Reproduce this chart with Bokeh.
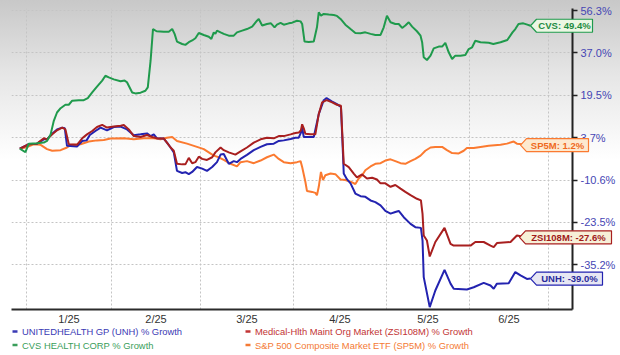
import numpy as np
from bokeh.plotting import figure
from bokeh.models import Range1d, FixedTicker
from bokeh.core.properties import value
from bokeh.embed import file_html
from bokeh.resources import INLINE

# ---------------- data ----------------
# right-axis tick values (% growth); the chart spaces them evenly
y_tick_values = [-35.2, -23.5, -10.6, 3.7, 19.5, 37.0, 56.3]
month_labels = ["1/25", "2/25", "3/25", "4/25", "5/25", "6/25"]
# month boundaries in trading-session units (x axis)
month_bounds = [1.7, 22.9, 45.2, 68.4, 91.7, 112.4, 132.2]

unh_x = [0, 2.25, 4.3, 6.0, 6.8, 8.1, 9.3, 10.6, 11.25, 11.8, 14.3, 15.6, 16.7, 17.5, 18.9, 20.2, 21.8, 23.5, 25.2, 26.8,
         28.5, 30.2, 31.8, 32.7, 33.5, 34.3, 36.0, 36.8, 37.7, 38.5, 39.3, 40.6, 41.4, 42.25, 43.1, 44.3, 45.6, 46.8, 48.1, 49.3,
         50.2, 51.0, 52.25, 53.5, 54.3, 55.2, 56.8, 58.5, 60.2, 61.8, 63.5, 64.75, 66.0, 67.7, 68.9, 69.75, 70.3, 70.6, 71.0, 73.5,
         74.75, 76.0, 76.7, 78.1, 79.3, 80.3, 80.6, 81.0, 81.8, 82.7, 83.9, 85.2, 86.4, 87.7, 88.9, 90.2, 91.4, 92.7, 93.9, 94.75,
         96.0, 97.7, 98.9, 100.3, 100.7, 101.0, 102.5, 103.9, 106.2, 107.7, 108.5, 111.8, 113.5, 116.0, 117.7, 118.5, 119.3, 122.25, 123.9, 125.2,
         126.8, 127.7]
unh_y = [0.0, 1.5, 1.7, 3.15, 3.15, 5.2, 6.8, 7.46, 7.2, 0.95, 0.7, 2.6, 2.8, 4.7, 6.2, 7.46, 6.46, 7.7, 7.85, 6.8,
         4.6, 4.95, 5.3, 4.3, 4.95, 3.5, 3.4, 2.05, 0.4, -1.25, -7.5, -8.2, -7.95, -8.6, -7.85, -6.2, -6.75, -7.5, -6.2, -4.55,
         -2.0, -1.8, -5.1, -4.2, -4.55, -3.45, -2.1, -0.5, 0.6, 1.5, 1.7, 2.6, 2.8, 3.26, 3.7, 3.7, 5.6, 7.46, 3.95, 3.95,
         12.5, 17.7, 18.5, 17.2, 16.2, 15.2, 4.95, -8.4, -10.3, -11.6, -14.7, -15.5, -15.7, -16.8, -17.3, -18.3, -20.0, -20.8, -20.3, -20.0,
         -21.9, -23.9, -24.8, -25.0, -28.5, -38.6, -46.9, -42.3, -36.6, -40.4, -41.8, -42.0, -41.4, -40.2, -40.9, -41.8, -40.4, -40.3, -37.2, -38.1,
         -39.1, -39.0]

zsi_x = [0, 2.25, 4.3, 6.0, 6.8, 8.1, 9.3, 10.6, 11.4, 12.25, 14.3, 15.6, 16.8, 18.1, 19.3, 20.6, 21.8, 23.5, 25.2, 26.0,
         27.25, 28.5, 30.2, 31.8, 33.1, 34.3, 36.0, 36.8, 37.7, 38.5, 39.3, 40.6, 41.4, 42.25, 43.1, 43.9, 44.75, 45.6, 46.8, 48.1,
         48.9, 50.2, 51.0, 52.25, 53.9, 55.2, 56.8, 58.5, 60.2, 61.8, 63.5, 64.75, 66.0, 67.7, 68.9, 69.75, 70.3, 70.6, 71.0, 71.4,
         72.7, 73.9, 74.75, 75.6, 76.7, 78.1, 79.3, 80.3, 81.0, 82.25, 83.5, 84.3, 85.6, 86.8, 88.1, 89.3, 90.2, 91.4, 92.7, 93.9,
         95.2, 96.4, 97.7, 99.3, 100.3, 100.7, 101.0, 101.8, 102.5, 103.9, 106.2, 107.7, 108.5, 112.7, 113.9, 116.0, 117.7, 118.5, 119.3, 122.7,
         124.3, 125.6, 127.7]
zsi_y = [0.0, 1.5, 1.7, 3.5, 3.15, 4.95, 6.46, 7.46, 6.8, 1.5, 1.3, 3.5, 4.95, 6.2, 7.7, 8.5, 7.5, 7.85, 8.2, 8.4,
         6.8, 4.3, 3.95, 4.7, 3.95, 3.5, 3.4, 2.05, 0.4, -0.7, -5.1, -5.3, -5.3, -3.1, -4.9, -4.55, -2.7, -3.45, -3.8, -2.9,
         -1.25, 0.4, -0.5, -1.25, -2.0, -0.9, 0.4, 2.05, 3.15, 3.7, 3.5, 4.3, 4.3, 4.95, 5.45, 5.6, 6.46, 8.7, 7.2, 5.2,
         4.95, 4.95, 12.5, 16.9, 17.7, 16.9, 16.0, 15.6, -5.1, -6.2, -8.4, -9.7, -8.7, -10.05, -9.8, -10.4, -11.6, -11.6, -12.65, -12.1,
         -13.2, -14.2, -15.2, -16.3, -16.8, -20.9, -27.1, -28.5, -32.9, -28.9, -25.0, -29.4, -29.9, -29.9, -28.9, -28.9, -29.9, -30.3, -29.2, -28.9,
         -27.1, -27.4, -27.6]

cvs_x = [0, 1.4, 2.25, 4.3, 6.0, 6.8, 7.7, 8.5, 9.3, 10.2, 11.4, 12.25, 13.1, 14.75, 16.0, 17.0, 18.1, 19.3, 20.6, 21.4,
         22.25, 23.5, 25.2, 26.2, 26.8, 28.1, 28.9, 30.2, 31.4, 32.0, 32.7, 33.3, 34.2, 36.0, 37.25, 38.1, 38.7, 39.3, 40.6, 41.4,
         42.25, 43.1, 43.9, 44.75, 46.0, 47.25, 47.9, 48.5, 48.9, 49.3, 50.2, 51.0, 52.25, 53.5, 54.3, 55.6, 56.8, 58.1, 59.3, 59.75,
         60.6, 61.8, 62.8, 63.7, 64.3, 65.2, 66.0, 67.25, 68.1, 69.3, 70.2, 70.6, 71.2, 72.25, 73.5, 74.3, 74.75, 75.3, 76.0, 77.25,
         78.5, 79.3, 80.2, 81.4, 82.7, 83.9, 85.2, 86.4, 87.7, 88.9, 90.2, 91.0, 91.8, 92.7, 93.9, 94.75, 95.6, 96.4, 97.25, 98.1,
         99.3, 100.2, 100.6, 101.0, 101.8, 102.7, 103.5, 104.75, 105.6, 106.4, 107.25, 108.1, 108.9, 110.2, 111.4, 112.25, 113.1, 113.9, 115.2, 117.25,
         118.4, 120.2, 121.9, 123.2, 123.9, 124.7, 125.9, 126.9, 127.7]
cvs_y = [0.0, -1.2, 1.7, 1.8, 2.05, 2.6, 4.95, 10.0, 13.1, 14.7, 16.0, 16.0, 17.5, 17.7, 17.7, 18.5, 20.7, 23.1, 25.6, 27.6,
         26.9, 26.1, 25.3, 25.6, 24.9, 20.7, 20.3, 20.6, 21.4, 22.8, 33.8, 47.9, 46.9, 46.7, 46.7, 47.9, 45.7, 42.2, 41.1, 40.7,
         41.9, 42.7, 43.7, 46.1, 45.2, 44.4, 43.4, 46.4, 45.7, 47.2, 46.4, 45.7, 44.9, 44.9, 46.4, 47.2, 47.9, 49.0, 51.7, 52.5,
         49.5, 50.2, 50.5, 48.7, 49.9, 50.7, 49.9, 50.5, 50.8, 51.7, 51.4, 50.2, 42.2, 42.0, 42.2, 48.7, 55.5, 54.0, 54.8, 54.5,
         54.3, 53.9, 52.5, 49.9, 47.9, 46.1, 46.0, 46.4, 45.7, 45.2, 45.2, 48.7, 54.0, 51.0, 50.2, 50.2, 48.4, 49.5, 51.0, 49.0,
         46.9, 44.9, 41.9, 35.2, 34.1, 35.9, 39.1, 39.9, 39.9, 41.6, 37.3, 34.5, 35.9, 35.9, 36.2, 38.8, 39.6, 42.6, 41.9, 41.7,
         41.1, 41.9, 42.9, 46.4, 47.9, 50.2, 50.5, 49.9, 49.4]

sp_x = [0, 1.4, 3.5, 5.2, 6.8, 8.1, 10.2, 11.8, 12.7, 15.2, 17.25, 19.3, 21.0, 22.7, 26.0, 28.5, 31.0, 33.5, 35.2, 36.8,
        38.1, 39.3, 41.8, 44.3, 46.0, 47.25, 48.5, 49.75, 51.0, 52.7, 54.3, 55.2, 56.8, 58.5, 60.2, 61.8, 63.5, 64.75, 66.0, 67.7,
        69.3, 70.2, 70.6, 71.4, 71.8, 73.1, 73.9, 74.3, 74.75, 75.3, 75.8, 76.4, 77.7, 78.9, 80.2, 81.4, 82.7, 83.9, 84.75, 85.6,
        86.4, 87.7, 88.9, 90.2, 91.4, 92.7, 93.9, 95.2, 96.4, 97.7, 98.9, 100.2, 101.4, 102.7, 103.9, 105.6, 106.8, 108.1, 109.75, 111.0,
        111.8, 113.5, 115.2, 117.25, 120.2, 121.8, 123.5, 124.3, 127.7]
sp_y = [0.0, 0.4, 1.5, 1.3, -0.15, -0.7, -0.5, 0.4, 1.2, 1.5, 2.4, 2.8, 2.9, 3.4, 3.5, 3.15, 3.5, 3.5, 3.15, 3.7,
        3.95, 2.6, 1.7, 0.6, -0.15, -1.25, -2.35, -2.9, -3.8, -5.1, -6.0, -4.55, -4.2, -4.9, -4.0, -2.9, -2.0, -3.45, -4.55, -4.9,
        -4.55, -4.2, -6.2, -11.1, -13.9, -14.2, -14.5, -15.2, -12.65, -7.85, -10.6, -8.95, -8.4, -8.6, -10.4, -10.6, -11.1, -11.8, -10.05, -8.95,
        -7.3, -6.0, -5.1, -4.9, -4.0, -3.6, -4.2, -4.9, -5.1, -4.2, -3.45, -2.35, -0.7, 0.4, 0.6, 0.6, -0.5, -1.5, -1.6, -0.7,
        0.2, 0.2, 0.6, 1.0, 1.3, 1.7, 2.4, 1.7, 1.2]

series_names = ["UNITEDHEALTH GP (UNH) % Growth", "Medical-Hlth Maint Org Market (ZSI108M) % Growth",
                "CVS HEALTH CORP % Growth", "S&P 500 Composite Market ETF (SP5M) % Growth"]
tags = ["UNH", "ZSI108M", "CVS", "SP5M"]
last_values = [-39.0, -27.6, 49.4, 1.2]

# ---------------- helpers ----------------
def to_axis(v):
    """Map % growth onto the evenly spaced tick scale of the chart."""
    t = np.array(y_tick_values, dtype=float)
    v = np.asarray(v, dtype=float)
    out = np.interp(v, t, np.arange(len(t), dtype=float))
    lo = v < t[0]
    out[lo] = (v[lo] - t[0]) / (t[1] - t[0])
    hi = v > t[-1]
    out[hi] = len(t) - 1 + (v[hi] - t[-1]) / (t[-1] - t[-2])
    return out

FONT = "Liberation Sans"
line_cols = {"UNH": "#2323b0", "ZSI108M": "#a81f1f", "CVS": "#1f9a4c", "SP5M": "#fb7a30"}
legend_cols = {"UNH": "#3a3ab4", "ZSI108M": "#c23434", "CVS": "#3a9e5a", "SP5M": "#f47a34"}
box_fill = {"UNH": "#e7e7f3", "ZSI108M": "#f7f0d8", "CVS": "#ecf7e4", "SP5M": "#fde9cf"}
box_text = {"UNH": "#2a2a9c", "ZSI108M": "#a01a1a", "CVS": "#1e8c42", "SP5M": "#ef6a1e"}

# layout (canvas pixels; the figure sits at the page origin)
W, H = 620, 355
FR_L, FR_R, FR_T, FR_B = 11, 572, 8, 309          # frame edges
X0, X1 = -2.08, 138.2
Y0, Y1 = -1.055, 6.05
ppx = (FR_R - FR_L) / (X1 - X0)
ppy = (FR_B - FR_T) / (Y1 - Y0)
def dx(px):
    return X0 + (px - FR_L) / ppx
def dy(py):
    return Y1 - (py - FR_T) / ppy

p = figure(width=W, height=H, output_backend="svg", toolbar_location=None,
           x_range=Range1d(X0, X1), y_range=Range1d(Y0, Y1),
           y_axis_location="right", min_border_left=FR_L, min_border_top=FR_T,
           min_border_right=W - FR_R, min_border_bottom=H - FR_B)
p.background_fill_color = None
p.border_fill_color = None
p.outline_line_color = None
p.styles = {"background": "linear-gradient(to bottom, #c8c8c8 0px, #e6e6e6 75px, #ffffff 160px)"}

# grids
p.xgrid.ticker = FixedTicker(ticks=month_bounds)
for g in (p.xgrid, p.ygrid):
    g.grid_line_color = "#c4c4c4"
    g.grid_line_dash = "2 2"
    g.grid_line_width = 1

# bottom axis: month labels centred between boundaries
centers = [round((a + b) / 2, 2) for a, b in zip(month_bounds[:-1], month_bounds[1:])]
xa = p.xaxis[0]
xa.ticker = FixedTicker(ticks=centers)
xa.major_label_overrides = {c: lab for c, lab in zip(centers, month_labels)}
xa.major_tick_line_color = None
xa.minor_tick_line_color = None
xa.major_tick_in = 0
xa.major_tick_out = 0
xa.minor_tick_in = 0
xa.minor_tick_out = 0
xa.axis_line_color = "#2b2b2b"
xa.axis_line_width = 2
xa.major_label_standoff = 3
xa.major_label_text_font = FONT
xa.major_label_text_font_size = "11px"
xa.major_label_text_color = "#333333"

# right axis
ya = p.yaxis[0]
ya.ticker = FixedTicker(ticks=list(range(len(y_tick_values))))
ya.major_label_overrides = {i: f"{v:.1f}%" for i, v in enumerate(y_tick_values)}
ya.axis_line_color = "#222222"
ya.axis_line_width = 2
ya.major_tick_in = 0
ya.major_tick_out = 5
ya.major_tick_line_color = "#222222"
ya.major_tick_line_width = 1.5
ya.minor_tick_line_color = None
ya.major_label_standoff = 3
ya.major_label_text_font = FONT
ya.major_label_text_font_size = "11px"
ya.major_label_text_color = "#4646b4"

# lines
p.line(sp_x, to_axis(sp_y), line_color=line_cols["SP5M"], line_width=2)
p.line(unh_x, to_axis(unh_y), line_color=line_cols["UNH"], line_width=2)
p.line(zsi_x, to_axis(zsi_y), line_color=line_cols["ZSI108M"], line_width=2)
p.line(cvs_x, to_axis(cvs_y), line_color=line_cols["CVS"], line_width=2)

# end-of-line callouts (overlay level so they may cross the axis)
box_geom = {"CVS": (530, 592), "SP5M": (520, 588), "ZSI108M": (519, 611), "UNH": (530, 602)}
half_h = 6.5 / ppy
for tag, val in zip(tags, last_values):
    tip_px, right_px = box_geom[tag]
    c = float(to_axis([val])[0])
    tip, body, right = dx(tip_px), dx(tip_px + 6), dx(right_px)
    r = p.patch([tip, body, right, right, body], [c, c + half_h, c + half_h, c - half_h, c - half_h],
                fill_color=box_fill[tag], fill_alpha=1.0, line_color=line_cols[tag], line_width=1.2)
    r.level = "overlay"
    t = p.text([(body + right) / 2], [c], text=[f"{tag}: {val:.1f}%"], text_align="center",
               text_baseline="middle", text_font=value(FONT), text_font_size="9.5px",
               text_font_style="bold", text_color=box_text[tag])
    t.level = "overlay"

# legend (two rows, two columns) below the axis
leg_pos = {"UNH": (11, 331), "ZSI108M": (244, 331), "CVS": (11, 344.5), "SP5M": (244, 344.5)}
for tag, name in zip(tags, series_names):
    lx, ly = leg_pos[tag]
    s = p.segment(x0=[dx(lx + 1)], y0=[dy(ly)], x1=[dx(lx + 6)], y1=[dy(ly)],
                  line_color=legend_cols[tag], line_width=2.5)
    s.level = "overlay"
    t = p.text([dx(lx + 10.5)], [dy(ly)], text=[name], text_baseline="middle",
               text_font=value(FONT), text_font_size="9.4px", text_color=legend_cols[tag])
    t.level = "overlay"

open("out.html", "w").write(file_html(p, INLINE))
